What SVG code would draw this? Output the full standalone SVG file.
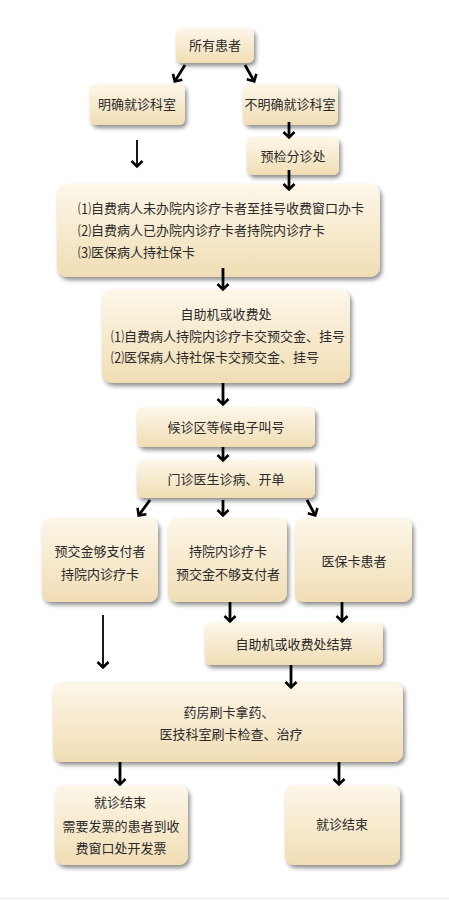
<svg xmlns="http://www.w3.org/2000/svg" width="449" height="900" viewBox="0 0 449 900">
<defs>
<linearGradient id="g" x1="0" y1="0" x2="0" y2="1">
<stop offset="0" stop-color="#fdf7e9"/>
<stop offset="1" stop-color="#f0ddb4"/>
</linearGradient>
<filter id="sh" x="-10%" y="-10%" width="125%" height="135%">
<feGaussianBlur in="SourceAlpha" stdDeviation="2"/>
<feOffset dx="2" dy="3" result="b"/>
<feComponentTransfer><feFuncA type="linear" slope="0.45"/></feComponentTransfer>
<feMerge><feMergeNode/><feMergeNode in="SourceGraphic"/></feMerge>
</filter>
<marker id="ah" markerUnits="userSpaceOnUse" markerWidth="14" markerHeight="14" refX="7" refY="7" orient="auto" viewBox="0 0 14 14">
<path d="M2,1.5 L7.5,7 L2,12.5" fill="none" stroke="#000" stroke-width="2.6"/>
</marker>
</defs>
<style>
.box{fill:url(#g);filter:url(#sh)}
text{font-family:"Noto Sans CJK SC","Liberation Serif",serif;font-size:13px;fill:#2a2a2a}
.c{text-anchor:middle}
.ln{stroke:#000;stroke-width:2.8;fill:none;marker-end:url(#ah)}
.thin{stroke-width:1.8}
</style>
<rect x="0" y="0" width="449" height="900" fill="#fff"/>
<line x1="0" y1="898.5" x2="449" y2="898.5" stroke="#ececec" stroke-width="1"/>

<g id="n1"><rect class="box" x="176" y="28" width="78" height="35" rx="6"/><text class="c" x="215" y="50">所有患者</text></g>
<g id="n2"><rect class="box" x="90" y="84" width="95" height="41" rx="6"/><text class="c" x="137" y="109">明确就诊科室</text></g>
<g id="n3"><rect class="box" x="243" y="84" width="95" height="41" rx="6"/><text class="c" x="290" y="109">不明确就诊科室</text></g>
<g id="n4"><rect class="box" x="247" y="137" width="92" height="38" rx="6"/><text class="c" x="293" y="161">预检分诊处</text></g>
<g id="n5"><rect class="box" x="57" y="184" width="323" height="93" rx="10"/>
<text x="78" y="213">⑴自费病人未办院内诊疗卡者至挂号收费窗口办卡</text>
<text x="78" y="235">⑵自费病人已办院内诊疗卡者持院内诊疗卡</text>
<text x="78" y="257">⑶医保病人持社保卡</text></g>
<g id="n6"><rect class="box" x="102" y="289" width="248" height="94" rx="10"/>
<text class="c" x="226" y="319">自助机或收费处</text>
<text x="111" y="341">⑴自费病人持院内诊疗卡交预交金、挂号</text>
<text x="111" y="362">⑵医保病人持社保卡交预交金、挂号</text></g>
<g id="n7"><rect class="box" x="137" y="407" width="178" height="40" rx="6"/><text class="c" x="226" y="432">候诊区等候电子叫号</text></g>
<g id="n8"><rect class="box" x="137" y="460" width="178" height="38" rx="6"/><text class="c" x="226" y="484">门诊医生诊病、开单</text></g>
<g id="n9"><rect class="box" x="42" y="518" width="116" height="84" rx="9"/>
<text class="c" x="100" y="556">预交金够支付者</text><text class="c" x="100" y="579">持院内诊疗卡</text></g>
<g id="n10"><rect class="box" x="168" y="518" width="119" height="84" rx="9"/>
<text class="c" x="228" y="556">持院内诊疗卡</text><text class="c" x="228" y="579">预交金不够支付者</text></g>
<g id="n11"><rect class="box" x="295" y="518" width="117" height="84" rx="9"/>
<text class="c" x="354" y="566">医保卡患者</text></g>
<g id="n12"><rect class="box" x="205" y="623" width="178" height="42" rx="6"/><text class="c" x="294" y="649">自助机或收费处结算</text></g>
<g id="n13"><rect class="box" x="53" y="682" width="350" height="80" rx="9"/>
<text class="c" x="229" y="717">药房刷卡拿药、</text><text class="c" x="231" y="739">医技科室刷卡检查、治疗</text></g>
<g id="n14"><rect class="box" x="55" y="785" width="133" height="80" rx="9"/>
<text class="c" x="120" y="807">就诊结束</text><text class="c" x="121" y="831">需要发票的患者到收</text><text class="c" x="121" y="853">费窗口处开发票</text></g>
<g id="n15"><rect class="box" x="285" y="785" width="115" height="80" rx="9"/>
<text class="c" x="342" y="829">就诊结束</text></g>

<g id="connectors">
<line class="ln" x1="185" y1="65" x2="175" y2="81"/>
<line class="ln" x1="245" y1="65" x2="254" y2="81"/>
<line class="ln thin" x1="137" y1="140" x2="137" y2="166"/>
<line class="ln" x1="289" y1="122" x2="289" y2="137"/>
<line class="ln" x1="289" y1="170" x2="289" y2="189"/>
<line class="ln" x1="223" y1="268" x2="223" y2="289"/>
<line class="ln" x1="223" y1="383" x2="223" y2="404"/>
<line class="ln" x1="223" y1="447" x2="223" y2="460"/>
<line class="ln" x1="150" y1="500" x2="139" y2="515"/>
<line class="ln" x1="223" y1="500" x2="223" y2="515"/>
<line class="ln" x1="307" y1="500" x2="315" y2="515"/>
<line class="ln thin" x1="103" y1="615" x2="103" y2="667"/>
<line class="ln" x1="230" y1="602" x2="230" y2="621"/>
<line class="ln" x1="342" y1="602" x2="342" y2="621"/>
<line class="ln" x1="291" y1="665" x2="291" y2="687"/>
<line class="ln" x1="120" y1="762" x2="120" y2="784"/>
<line class="ln" x1="339" y1="762" x2="339" y2="784"/>
</g>
</svg>
